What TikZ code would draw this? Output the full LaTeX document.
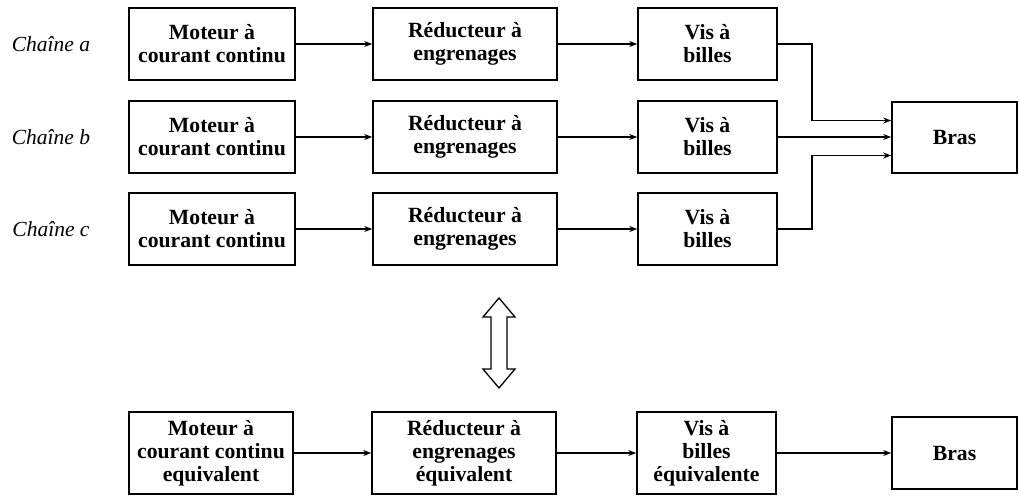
\documentclass[tikz,border=0pt]{standalone}
\usepackage{fontspec}
\setmainfont{Liberation Serif}
\usetikzlibrary{arrows.meta}
\tikzset{
  blk/.style={draw, line width=1.6pt, inner sep=0pt, align=center,
    font=\fontsize{21.7}{23}\selectfont\bfseries},
  chain/.style={inner sep=0pt, font=\fontsize{21.5}{22}\selectfont\itshape},
  conn/.style={line width=1.4pt, -{Stealth[length=8pt,width=6pt]}},
  dbl/.style={draw, line width=1.3pt, fill=white, line join=miter}
}
\begin{document}
\begin{tikzpicture}[x=1pt,y=-1pt]
\useasboundingbox (0,0) rectangle (1019,495);
% chains
\foreach \r/\yc/\lab in {a/44/a, b/137/b, c/229/c}{
  \node[chain] (ch\r) at (51,\yc) {Chaîne \lab};
  \node[blk, minimum width=166pt, minimum height=72pt] (m\r) at (212,\yc) {Moteur à\\courant continu};
  \node[blk, minimum width=184pt, minimum height=72pt] (r\r) at (465,\yc) {Réducteur à\\engrenages};
  \node[blk, minimum width=139pt, minimum height=72pt] (v\r) at (707.5,\yc) {Vis à\\billes};
  \draw[conn] (m\r) -- (r\r);
  \draw[conn] (r\r) -- (v\r);
}
\node[blk, minimum width=125pt, minimum height=71pt] (bras) at (954.5,137.5) {Bras};
\coordinate (ka) at (812,44);
\coordinate (kc) at (812,229);
\draw[conn] (va.east) -- (ka) |- ([yshift=17pt]bras.west);
\draw[conn] (vb.east) -- (bras.west |- vb.east);
\draw[conn] (vc.east) -- (kc) |- ([yshift=-18pt]bras.west);
% double arrow
\draw[dbl] (499,298) -- (515,317) -- (507,317) -- (507,369) -- (515,369) -- (499,388)
  -- (483,369) -- (491,369) -- (491,317) -- (483,317) -- cycle;
% equivalent chain
\node[blk, minimum width=164pt, minimum height=82pt] (me) at (211,453) {Moteur à\\courant continu\\equivalent};
\node[blk, minimum width=184pt, minimum height=82pt] (re) at (464,453) {Réducteur à\\engrenages\\équivalent};
\node[blk, minimum width=139pt, minimum height=82pt] (ve) at (706.5,453) {Vis à\\billes\\équivalente};
\node[blk, minimum width=125pt, minimum height=72pt] (be) at (954.5,453) {Bras};
\draw[conn] (me) -- (re);
\draw[conn] (re) -- (ve);
\draw[conn] (ve) -- (be);
\end{tikzpicture}
\end{document}
